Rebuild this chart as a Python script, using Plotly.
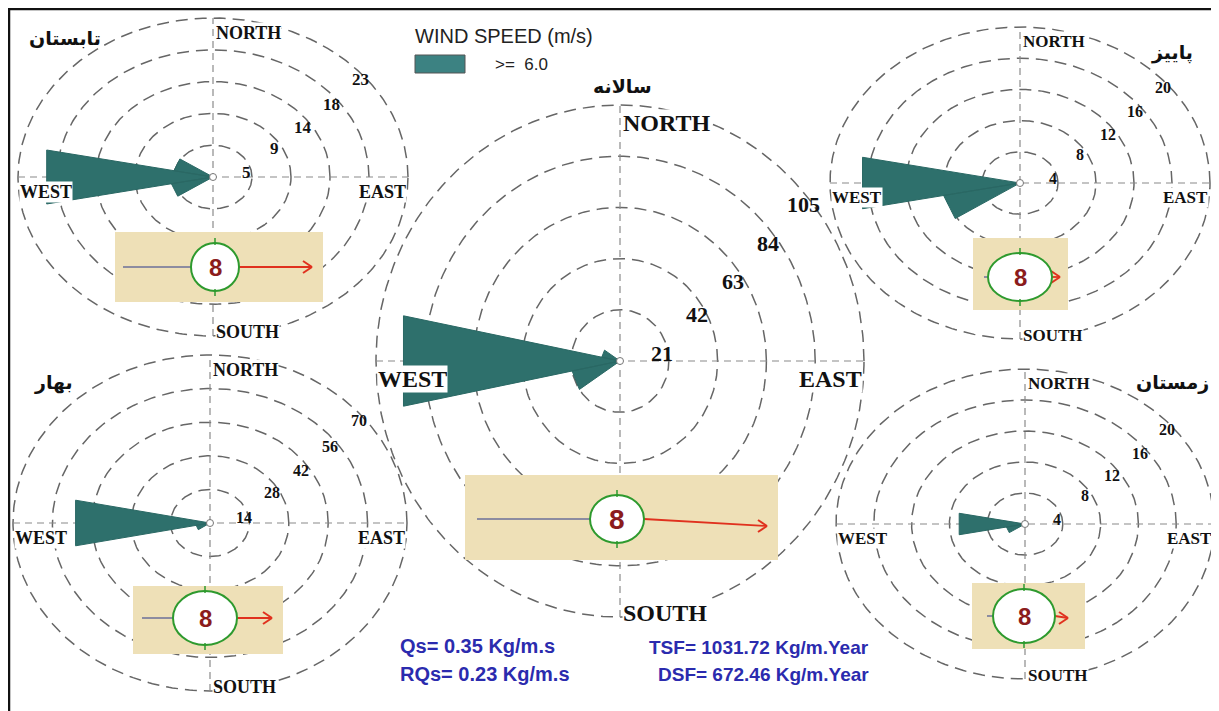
import numpy as np
import plotly.graph_objects as go

PAGE_W, PAGE_H = 1219, 711
OFF = 8                       # default page margin of the html body
W, H = PAGE_W - OFF, PAGE_H - OFF

# ---------------- data ----------------
seasons = ["تابستان", "سالانه", "پاییز", "بهار", "زمستان"]
directions = ["WSW", "W", "WNW"]
dir_angles = [247.5, 270.0, 292.5]          # compass degrees
summer_dp = [5.0, 20.0, 4.7]
annual_dp = [21.0, 95.0, 8.0]
autumn_dp = [8.2, 16.9, 0.0]
spring_dp = [5.0, 48.7, 0.0]
winter_dp = [2.0, 7.1, 0.0]
ring_max = [23, 105, 20, 70, 20]
ring_labels = [
    ["5", "9", "14", "18", "23"],
    ["21", "42", "63", "84", "105"],
    ["4", "8", "12", "16", "20"],
    ["14", "28", "42", "56", "70"],
    ["4", "8", "12", "16", "20"],
]
drift_arrow = [73, 123, 8, 35, 13]     # resultant drift arrow length
back_line = [68, 113, 4, 31, 6]        # grey tail length
class_label = "8"
legend_title = "WIND SPEED (m/s)"
legend_class = ">=  6.0"
stats_left = ["Qs= 0.35 Kg/m.s", "RQs= 0.23 Kg/m.s"]
stats_right = ["TSF= 1031.72 Kg/m.Year", "DSF= 672.46 Kg/m.Year"]
compass = ["NORTH", "SOUTH", "EAST", "WEST"]

panel_dp = [summer_dp, annual_dp, autumn_dp, spring_dp, winter_dp]

# ---------------- layout / style (page pixels) ----------------
geom = [(213, 177, 195, 159), (620, 361, 244, 256), (1020, 183, 190, 156),
        (210, 523, 197, 168), (1025, 524, 189, 155)]            # cx, cy, rx, ry
title_pos = [(65, 38), (622, 86), (1172, 52), (53, 383), (1172, 383)]
dir_font = [18, 24, 17, 18, 17]
lab_font = [17, 22, 16, 16, 16]
boxes = [(115, 232, 323, 302), (465, 475, 778, 560), (973, 238, 1068, 310),
         (133, 586, 283, 654), (972, 583, 1085, 649)]
circles = [(215, 267, 24, 24), (617, 519, 27, 24), (1020, 277, 32, 24),
           (205, 618, 32, 27), (1024, 616, 31, 27)]
arrow_drop = [0, 7, 0, 0, 2]
num_font = [24, 28, 24, 24, 24]

PETAL = "#2E706C"
PETAL_EDGE = "#2A6864"
RING = "#666666"
AXIS = "#8a8a8a"
TAN = "#EEE0B7"
GREEN = "#2E9A2E"
RED = "#E0311E"
GREYLINE = "#8C8CA0"
BLUE = "#2B2BAE"
SERIF = "Liberation Serif"
SANS = "Liberation Sans"


def PX(x):
    return (x - OFF) / W


def PY(y):
    return 1 - (y - OFF) / H


fig = go.Figure()
layout = dict(width=W, height=H, margin=dict(l=0, r=0, t=0, b=0),
              paper_bgcolor="white", plot_bgcolor="rgba(0,0,0,0)",
              showlegend=False)
annotations = []
shapes = []

t = np.linspace(0, 2 * np.pi, 361)
label_ang = [10, 30, 34, 37, 39]
label_frac = [0.87, 0.91, 0.93, 0.95, 0.97]
m = 1.12


def note(x, y, text, font, xanchor="center", yanchor="middle", **kw):
    d = dict(x=x, y=y, text=text, showarrow=False, font=font,
             xanchor=xanchor, yanchor=yanchor)
    d.update(kw)
    if "xref" not in d:
        d["xref"] = "paper"
        d["yref"] = "paper"
    annotations.append(d)


for i, ((cx, cy, rx, ry), R, dp) in enumerate(zip(geom, ring_max, panel_dp)):
    k = "" if i == 0 else str(i + 1)
    xa, ya = "x" + k, "y" + k
    x0 = max(cx - rx * m, OFF); x1 = min(cx + rx * m, PAGE_W)
    y0 = max(cy - ry * m, OFF); y1 = min(cy + ry * m, PAGE_H)
    layout["xaxis" + k] = dict(domain=[PX(x0), PX(x1)],
                               range=[(x0 - cx) / rx * R, (x1 - cx) / rx * R],
                               visible=False, fixedrange=True, anchor=ya)
    layout["yaxis" + k] = dict(domain=[PY(y1), PY(y0)],
                               range=[(cy - y1) / ry * R, (cy - y0) / ry * R],
                               visible=False, fixedrange=True, anchor=xa)

    # rings
    rx_l, ry_l = [], []
    for j in range(1, 6):
        v = R * j / 5
        rx_l += list(v * np.cos(t)) + [None]
        ry_l += list(v * np.sin(t)) + [None]
    fig.add_trace(go.Scatter(x=rx_l, y=ry_l, mode="lines", xaxis=xa, yaxis=ya,
                             line=dict(color=RING, width=1.5, dash="12px,7px"),
                             hoverinfo="skip"))
    # cross axes
    fig.add_trace(go.Scatter(x=[-R, R, None, 0, 0], y=[0, 0, None, -R, R],
                             mode="lines", xaxis=xa, yaxis=ya,
                             line=dict(color=AXIS, width=1.2, dash="7px,5px"),
                             hoverinfo="skip"))
    # petals (triangles, 22.5 deg wide)
    px_l, py_l = [], []
    for ang, val in zip(dir_angles, dp):
        if val <= 0:
            continue
        a1 = np.radians(ang - 11.25); a2 = np.radians(ang + 11.25)
        px_l += [0, val * np.sin(a1), val * np.sin(a2), 0, None]
        py_l += [0, val * np.cos(a1), val * np.cos(a2), 0, None]
    fig.add_trace(go.Scatter(x=px_l, y=py_l, mode="lines", fill="toself",
                             fillcolor=PETAL, xaxis=xa, yaxis=ya,
                             line=dict(color=PETAL_EDGE, width=1),
                             name=legend_class, hoverinfo="skip"))
    fig.add_trace(go.Scatter(x=[0], y=[0], mode="markers", xaxis=xa, yaxis=ya,
                             marker=dict(color="white", size=7,
                                         line=dict(color="#777", width=1)),
                             hoverinfo="skip"))

    # ring labels
    for j, txt in enumerate(ring_labels[i]):
        v = R * (j + 1) / 5 * label_frac[j]
        a = np.radians(label_ang[j])
        note(v * np.cos(a), v * np.sin(a), "<b>%s</b>" % txt,
             dict(family=SERIF, size=lab_font[i], color="#111"), xref=xa, yref=ya)
    # compass labels
    f = dict(family=SERIF, size=dir_font[i], color="#111")
    common = dict(xref=xa, yref=ya, bgcolor="white", borderpad=0)
    note(0, R, "<b>%s</b>" % compass[0], f, "left", "top", xshift=2, yshift=-4, **common)
    note(0, -R, "<b>%s</b>" % compass[1], f, "left", "middle", xshift=2, yshift=4, **common)
    note(R, 0, "<b>%s</b>" % compass[2], f, "right", "top", xshift=-1, yshift=-4, **common)
    note(-R, 0, "<b>%s</b>" % compass[3], f, "left", "top", xshift=1, yshift=-4, **common)
    # season title
    tx, ty = title_pos[i]
    note(PX(tx), PY(ty), "<b>%s</b>" % seasons[i],
         dict(family="DejaVu Sans", size=19, color="#111"))

    # drift box
    bx0, by0, bx1, by1 = boxes[i]
    shapes.append(dict(type="rect", xref="paper", yref="paper", x0=PX(bx0), x1=PX(bx1),
                       y0=PY(by1), y1=PY(by0), fillcolor=TAN, line=dict(width=0),
                       layer="above"))
    ccx, ccy, crx, cry = circles[i]
    # grey tail
    shapes.append(dict(type="line", xref="paper", yref="paper",
                       x0=PX(ccx - crx - back_line[i]), x1=PX(ccx - crx),
                       y0=PY(ccy), y1=PY(ccy), line=dict(color=GREYLINE, width=2),
                       layer="above"))
    # red arrow
    sx, sy = ccx + crx, ccy
    ex, ey = sx + drift_arrow[i], ccy + arrow_drop[i]
    shapes.append(dict(type="line", xref="paper", yref="paper", x0=PX(sx), x1=PX(ex),
                       y0=PY(sy), y1=PY(ey), line=dict(color=RED, width=1.8),
                       layer="above"))
    for dy in (-6, 6):
        shapes.append(dict(type="line", xref="paper", yref="paper", x0=PX(ex - 9),
                           x1=PX(ex), y0=PY(ey + dy), y1=PY(ey),
                           line=dict(color=RED, width=2), layer="above"))
    # circle with ticks
    shapes.append(dict(type="circle", xref="paper", yref="paper",
                       x0=PX(ccx - crx), x1=PX(ccx + crx), y0=PY(ccy + cry), y1=PY(ccy - cry),
                       fillcolor="white", line=dict(color=GREEN, width=2), layer="above"))
    for yy0, yy1 in ((ccy - cry - 5, ccy - cry + 2), (ccy + cry - 2, ccy + cry + 5)):
        shapes.append(dict(type="line", xref="paper", yref="paper", x0=PX(ccx), x1=PX(ccx),
                           y0=PY(yy0), y1=PY(yy1), line=dict(color=GREEN, width=1.5),
                           layer="above"))
    note(PX(ccx), PY(ccy), "<b>%s</b>" % class_label,
         dict(family=SANS, size=num_font[i], color="#8B1C1C"))

# legend (manual)
shapes.append(dict(type="rect", xref="paper", yref="paper", x0=PX(415), x1=PX(465),
                   y0=PY(73), y1=PY(55), fillcolor="#3C8282",
                   line=dict(color="#555", width=1)))
note(PX(413), PY(36), legend_title, dict(family=SANS, size=20, color="#222"), "left")
note(PX(493), PY(64), legend_class, dict(family=SANS, size=17, color="#222"), "left")

# statistics
for txt, yy in zip(stats_left, (646, 674)):
    note(PX(398), PY(yy), "<b>%s</b>" % txt, dict(family=SANS, size=20, color=BLUE), "left")
for txt, yy in zip(stats_right, (647, 674)):
    note(PX(871), PY(yy), "<b>%s</b>" % txt, dict(family=SANS, size=19, color=BLUE), "right")

# frame (top and left)
shapes.append(dict(type="line", xref="paper", yref="paper", x0=0, x1=1,
                   y0=PY(9), y1=PY(9), line=dict(color="#111", width=2.5)))
shapes.append(dict(type="line", xref="paper", yref="paper", x0=PX(9), x1=PX(9),
                   y0=0, y1=PY(9), line=dict(color="#111", width=2.5)))

layout["annotations"] = annotations
layout["shapes"] = shapes
fig.update_layout(**layout)
fig.write_html("out.html")
